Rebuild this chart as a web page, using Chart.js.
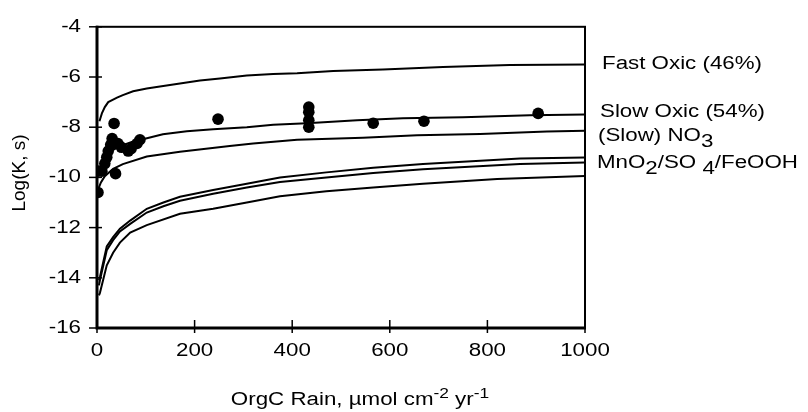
<!DOCTYPE html>
<html><head><meta charset="utf-8">
<script src="https://cdn.jsdelivr.net/npm/chart.js@4/dist/chart.umd.min.js"></script>
<style>html,body{margin:0;padding:0;background:#fff}#wrap{width:808px;height:412px}</style>
</head><body><div id="wrap"><canvas id="c" width="808" height="412"></canvas></div>
<script>
// ---- data ----
const xTicks = [0, 200, 400, 600, 800, 1000];
const yTicks = [-16, -14, -12, -10, -8, -6, -4];

const fastOxicX = [5, 10, 16, 23, 33, 41, 53, 74, 102, 129, 170, 211, 252, 307, 361, 410, 484, 586, 709, 846, 1000];
const fastOxicY = [-7.76, -7.45, -7.2, -7.0, -6.9, -6.82, -6.72, -6.57, -6.46, -6.38, -6.26, -6.14, -6.06, -5.94, -5.88, -5.85, -5.76, -5.70, -5.60, -5.52, -5.50];

const slowOxicX = [5, 10, 16, 23, 33, 41, 53, 74, 94, 135, 184, 238, 307, 361, 430, 533, 627, 750, 887, 1000];
const slowOxicY = [-9.76, -9.45, -9.2, -9.0, -8.9, -8.82, -8.72, -8.57, -8.48, -8.28, -8.16, -8.08, -8.00, -7.90, -7.84, -7.72, -7.64, -7.60, -7.52, -7.49];

const no3X = [2, 8, 16, 33, 53, 102, 170, 272, 320, 410, 545, 656, 785, 922, 1000];
const no3Y = [-10.5, -10.2, -9.95, -9.66, -9.47, -9.17, -8.98, -8.75, -8.65, -8.50, -8.42, -8.32, -8.27, -8.17, -8.14];

const lowTopX = [4, 6, 20, 33, 47, 68, 102, 136, 170, 238, 307, 375, 470, 566, 668, 867, 1000];
const lowTopY = [-14.1, -13.97, -12.75, -12.38, -12.04, -11.72, -11.25, -11.0, -10.77, -10.5, -10.25, -10.0, -9.8, -9.62, -9.47, -9.25, -9.21];

const lowMidX = [4, 6, 20, 33, 47, 68, 102, 136, 170, 238, 307, 375, 470, 566, 668, 867, 1000];
const lowMidY = [-14.3, -14.1, -12.9, -12.5, -12.15, -11.85, -11.4, -11.15, -10.93, -10.65, -10.4, -10.18, -10.0, -9.82, -9.68, -9.47, -9.41];

const lowBotX = [4, 6, 20, 33, 47, 68, 102, 170, 238, 307, 375, 470, 566, 668, 820, 1000];
const lowBotY = [-14.7, -14.6, -13.5, -13.0, -12.6, -12.2, -11.9, -11.45, -11.25, -11.0, -10.75, -10.55, -10.4, -10.25, -10.06, -9.94];

const obsX = [2, 2, 10, 16, 20, 23, 28, 31, 35, 38, 43, 50, 64, 70, 82, 88, 248, 434, 434, 434, 434, 566, 670, 904];
const obsY = [-10.6, -9.75, -9.75, -9.45, -9.2, -8.95, -8.7, -8.45, -7.85, -9.85, -8.65, -8.8, -8.95, -8.85, -8.65, -8.5, -7.68, -7.2, -7.4, -7.72, -8.0, -7.84, -7.76, -7.45];

const curveLabels = ['Fast Oxic (46%)', 'Slow Oxic (54%)'];
const xTitle = ['OrgC Rain, \u00b5mol cm', '-2', ' yr', '-1'];
const yTitle = 'Log(K, s)';

// ---- helpers ----
const FONT = '"Liberation Sans", Arial, Helvetica, sans-serif';
const FS = 18;
const SX = 1.24;
let stretch = SX;
const pts = (xs, ys) => xs.map((x, i) => ({x: x, y: ys[i]}));
const lineDs = (xs, ys) => ({data: pts(xs, ys), showLine: true, borderColor: '#000', borderWidth: 2,
  pointRadius: 0, fill: false, tension: 0});

function installStretch(ctx) {
  const orig = ctx.fillText;
  ctx.fillText = function (text, x, y) {
    const t = this.getTransform();
    if (Math.abs(t.b) > 1e-6 || Math.abs(t.c) > 1e-6) return orig.call(this, text, x, y);
    this.save(); this.translate(x, y); this.scale(stretch, 1); orig.call(this, text, 0, 0); this.restore();
  };
}

const decor = {
  id: 'decor',
  beforeInit(chart) { installStretch(chart.ctx); },
  afterDatasetsDraw(chart) {
    const ctx = chart.ctx, a = chart.chartArea;
    const xs = chart.scales.x, ys = chart.scales.y;
    ctx.save();
    ctx.strokeStyle = '#000';
    // frame
    ctx.lineWidth = 2;
    ctx.strokeRect(a.left, a.top, a.right - a.left, a.bottom - a.top);
    ctx.lineWidth = 3;
    ctx.beginPath(); ctx.moveTo(a.left, a.top - 1); ctx.lineTo(a.left, a.bottom); ctx.lineTo(a.right + 1, a.bottom); ctx.stroke();
    // cross ticks
    ctx.lineWidth = 1.5;
    yTicks.forEach(v => { const p = ys.getPixelForValue(v); ctx.beginPath(); ctx.moveTo(a.left - 8, p); ctx.lineTo(a.left + 5, p); ctx.stroke(); });
    xTicks.forEach(v => { const p = xs.getPixelForValue(v); ctx.beginPath(); ctx.moveTo(p, a.bottom - 8); ctx.lineTo(p, a.bottom + 5); ctx.stroke(); });
    ctx.restore();

    // texts
    ctx.save();
    ctx.fillStyle = '#000';
    ctx.textBaseline = 'alphabetic';
    ctx.textAlign = 'left';
    const F = s => s + 'px ' + FONT;
    const w = (t, s) => { ctx.font = F(s); return ctx.measureText(t).width * stretch; };
    // y title
    ctx.save();
    ctx.translate(25, 173);
    ctx.rotate(-Math.PI / 2);
    ctx.font = F(19); ctx.textAlign = 'center';
    ctx.fillText(yTitle, 0, 0);
    ctx.restore();
    // x title with superscripts
    const parts = [[xTitle[0], FS, 0], [xTitle[1], 14, -7], [xTitle[2], FS, 0], [xTitle[3], 14, -7]];
    let total = parts.reduce((s, p) => s + w(p[0], p[1]), 0);
    let x = 360 - total / 2;
    parts.forEach(p => { ctx.font = F(p[1]); ctx.fillText(p[0], x, 405 + p[2]); x += w(p[0], p[1]); });
    // right labels
    ctx.font = F(FS);
    ctx.fillText(curveLabels[0], 602, 69);
    ctx.fillText(curveLabels[1], 600, 117);
    const seq = (arr, x0, y0) => { let xx = x0; arr.forEach(p => { ctx.font = F(FS); ctx.fillText(p[0], xx, y0 + p[1]); xx += w(p[0], FS); }); };
    seq([['(Slow) NO', 0], ['3', 6]], 598, 141);
    seq([['MnO', 0], ['2', 6], ['/SO ', 0], ['4', 6], ['/FeOOH', 0]], 597, 168);
    ctx.restore();
  }
};

new Chart(document.getElementById('c'), {
  type: 'scatter',
  data: {
    datasets: [
      lineDs(fastOxicX, fastOxicY),
      lineDs(slowOxicX, slowOxicY),
      lineDs(no3X, no3Y),
      lineDs(lowTopX, lowTopY),
      lineDs(lowMidX, lowMidY),
      lineDs(lowBotX, lowBotY),
      {data: pts(obsX, obsY), showLine: false, pointRadius: 5.8, pointBackgroundColor: '#000', pointBorderColor: '#000', pointBorderWidth: 0}
    ]
  },
  options: {
    responsive: false,
    animation: false,
    devicePixelRatio: 1,
    layout: {padding: {left: 0, top: 25, right: 223, bottom: 0}},
    plugins: {legend: {display: false}, tooltip: {enabled: false}},
    scales: {
      x: {type: 'linear', min: 0, max: 1000,
        afterFit(s) { s.height = 84; },
        afterBuildTicks(s) { s.ticks = xTicks.map(v => ({value: v})); },
        ticks: {color: '#000', font: {family: FONT, size: FS}, padding: 12, maxRotation: 0, callback: v => String(v)},
        grid: {display: false, drawTicks: false}, border: {display: false}},
      y: {type: 'linear', min: -16, max: -4,
        afterFit(s) { s.width = 97; },
        afterBuildTicks(s) { s.ticks = yTicks.map(v => ({value: v})); },
        ticks: {color: '#000', font: {family: FONT, size: FS}, padding: 16, callback: v => String(v)},
        grid: {display: false, drawTicks: false}, border: {display: false}}
    }
  },
  plugins: [decor]
});
</script>
</body></html>
